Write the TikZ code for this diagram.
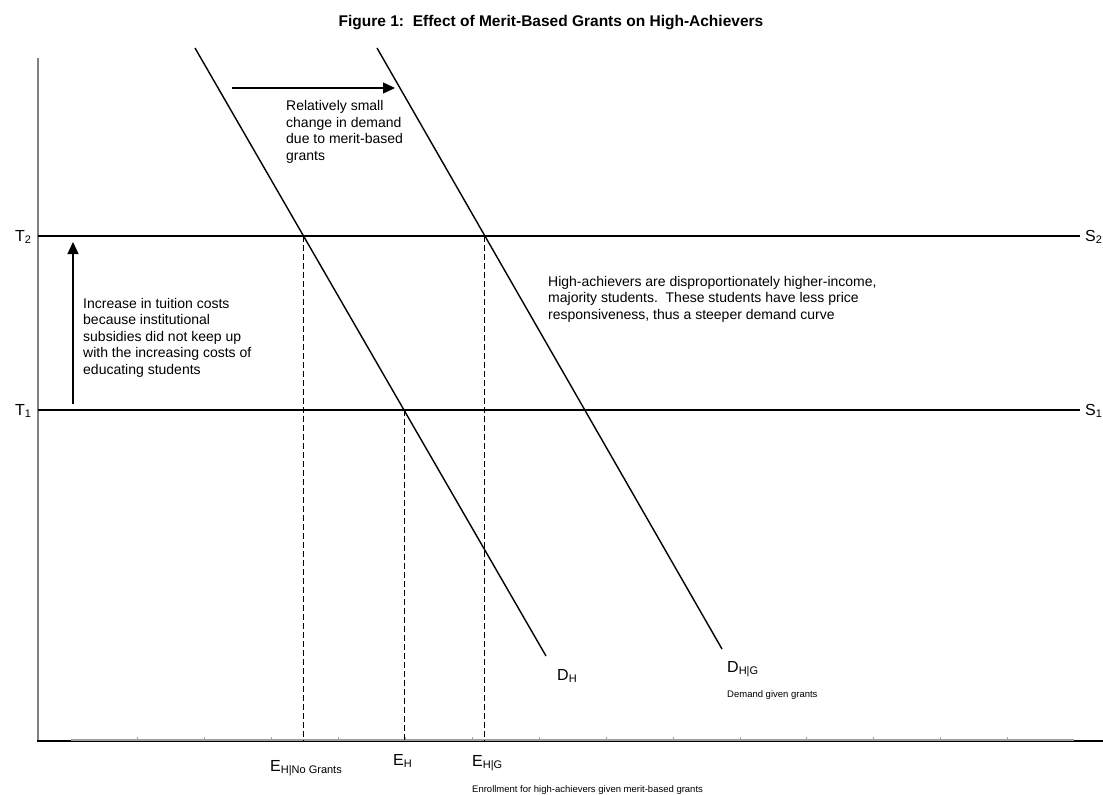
\documentclass[tikz,border=0pt]{standalone}
\usepackage{fontspec}
\setmainfont{Liberation Sans}
\usetikzlibrary{arrows.meta,intersections}
\newcommand{\lsub}[1]{\raisebox{-0.35ex}{\fontsize{11}{11}\selectfont #1}}
\begin{document}
\begin{tikzpicture}[x=1pt,y=-1pt,
  body/.style={inner sep=0pt, anchor=base west, font=\fontsize{14}{16.5}\selectfont, align=left},
  small/.style={inner sep=0pt, anchor=base west, font=\fontsize{9.5}{11}\selectfont},
  lab/.style={inner sep=0pt, anchor=base west, font=\fontsize{16}{18}\selectfont},
  supply/.style={line width=2.6pt},
  demand/.style={line width=1.4pt},
  guide/.style={line width=0.9pt, dash pattern=on 6pt off 3pt},
  arr/.style={-{Triangle[length=12pt,width=11pt]}, line width=1.3pt}]
\useasboundingbox (0,0) rectangle (1103,795);
% title
\node[inner sep=0pt, anchor=base, font=\fontsize{15.5}{18}\selectfont\bfseries] (title) at (551,27) {Figure 1:\ \ Effect of Merit-Based Grants on High-Achievers};
% axes
\draw[gray, line width=1.8pt] (38,58) -- (38,742);
\draw[line width=1.3pt] (37,741) -- (1103,741);
\draw[gray!75, line width=1.2pt] (71,740) -- (1074,740);
\foreach \k in {1,...,14} \draw[gray!75, line width=1pt] ({71+66.9*\k},737) -- ++(0,4);
% supply lines
\coordinate (T2l) at (38,236); \coordinate (T2r) at (1080,236);
\coordinate (T1l) at (38,410); \coordinate (T1r) at (1080,410);
\draw[supply, name path=s2] (T2l) -- (T2r);
\draw[supply, name path=s1] (T1l) -- (T1r);
\node[lab] (T2) at (15,241) {T\lsub{2}};
\node[lab] (T1) at (15,415) {T\lsub{1}};
\node[lab] (S2) at (1085,241) {S\lsub{2}};
\node[lab] (S1) at (1085,415) {S\lsub{1}};
% demand lines
\coordinate (dht) at (195,48); \coordinate (dhb) at (546,656);
\coordinate (dgt) at (377,48); \coordinate (dgb) at (722,649);
\draw[demand, name path=dh] (dht) -- (dhb);
\draw[demand, name path=dg] (dgt) -- (dgb);
% intersections
\path[name intersections={of=dh and s2, by=A}];
\path[name intersections={of=dh and s1, by=B}];
\path[name intersections={of=dg and s2, by=C}];
\coordinate (Ab) at (A |- 0,741);
\coordinate (Bb) at (B |- 0,741);
\coordinate (Cb) at (C |- 0,741);
\draw[guide] (A) -- (Ab);
\draw[guide] (B) -- (Bb);
\draw[guide] (C) -- (Cb);
% labels
\node[lab] (DH) at (557,680) {D\lsub{H}};
\node[lab] (DG) at (727,672) {D\lsub{H|G}};
\node[small] (dgtext) at (727,697) {Demand given grants};
\node[lab] (ENG) at (270,771) {E\lsub{H|No Grants}};
\node[lab] (EH) at (393,765) {E\lsub{H}};
\node[lab] (EG) at (472,766) {E\lsub{H|G}};
\node[small] (egtext) at (472,792) {Enrollment for high-achievers given merit-based grants};
% arrows
\coordinate (va) at (73,404); \coordinate (vb) at (73,242);
\draw[arr] (va) -- (vb);
\coordinate (ha) at (232,88); \coordinate (hb) at (395,88);
\draw[arr] (ha) -- (hb);
% texts
\node[body] (inc) at (83,374) {Increase in tuition costs\\because institutional\\subsidies did not keep up\\with the increasing costs of\\educating students};
\node[body] (rel) at (286,160) {Relatively small\\change in demand\\due to merit-based\\grants};
\node[body] (high) at (548,319) {High-achievers are disproportionately higher-income,\\majority students.\ \ These students have less price\\responsiveness, thus a steeper demand curve};
\end{tikzpicture}
\end{document}
